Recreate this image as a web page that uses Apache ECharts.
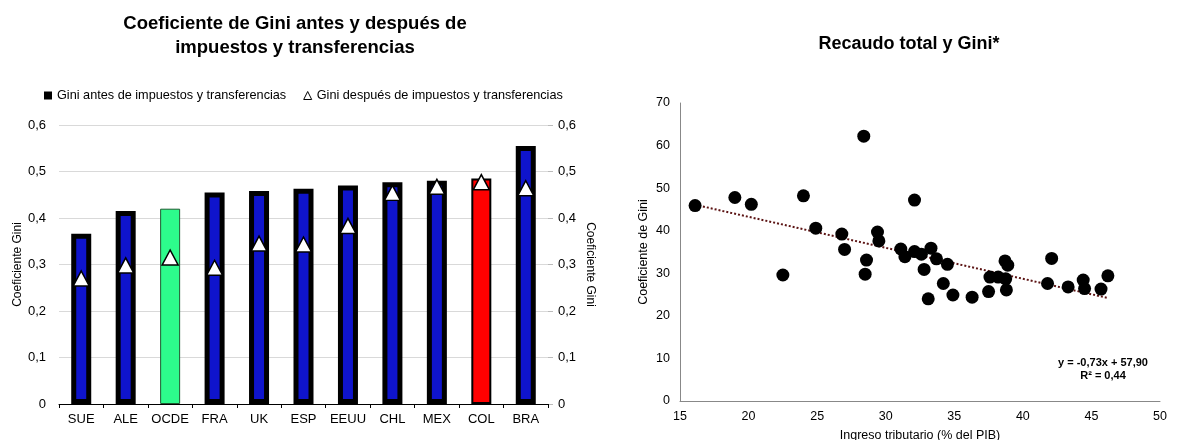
<!DOCTYPE html>
<html>
<head>
<meta charset="utf-8">
<script src="https://cdn.jsdelivr.net/npm/echarts@6/dist/echarts.min.js"></script>
<style>
  html, body { margin: 0; padding: 0; background: #fff; }
  #chart { width: 1178px; height: 440px; }
</style>
</head>
<body>
<div id="chart"></div>
<script>
// left chart: Gini before / after taxes and transfers
const countries = ['SUE', 'ALE', 'OCDE', 'FRA', 'UK', 'ESP', 'EEUU', 'CHL', 'MEX', 'COL', 'BRA'];
const giniAntes = [0.366, 0.415, 0.42, 0.455, 0.458, 0.463, 0.47, 0.477, 0.48, 0.485, 0.555];
const giniDespues = [0.27, 0.298, 0.315, 0.293, 0.345, 0.343, 0.383, 0.454, 0.467, 0.477, 0.464];
const giniTicks = ['0', '0,1', '0,2', '0,3', '0,4', '0,5', '0,6'];

// right chart: tax revenue vs Gini
const recaudo = [16.1, 19.0, 20.2, 22.5, 24.0, 24.9, 26.8, 27.0, 28.4, 28.5, 28.6, 29.4, 29.5,
  31.1, 31.4, 32.1, 32.1, 32.6, 32.8, 33.1, 33.3, 33.7, 34.2, 34.5, 34.9, 36.3, 37.5, 37.6,
  38.2, 38.7, 38.75, 38.8, 38.9, 41.8, 42.1, 43.3, 44.4, 44.5, 45.7, 46.2];
const gini = [45.9, 47.8, 46.2, 29.6, 48.2, 40.6, 39.2, 35.6, 62.2, 29.8, 33.1, 39.7, 37.6,
  35.7, 33.9, 47.2, 35.1, 34.5, 30.9, 24.0, 35.9, 33.4, 27.6, 32.1, 24.9, 24.4, 25.7, 29.1,
  29.1, 32.9, 28.7, 26.1, 31.9, 27.6, 33.5, 26.8, 28.4, 26.4, 26.3, 29.4];
const trendX = [16.1, 46.2];
const trendY = [46.1, 24.2];

const FONT = '"Liberation Sans", Arial, sans-serif';

const barData = giniAntes.map((v, i) => {
  const c = countries[i];
  if (c === 'OCDE') {
    return { value: v, itemStyle: { color: '#2dfc8c', borderColor: '#1f5a30', borderWidth: 1 } };
  }
  if (c === 'COL') {
    return { value: v, itemStyle: { color: '#ff0000', borderColor: '#000', borderWidth: 2 } };
  }
  return { value: v, itemStyle: { color: '#0f14cc', borderColor: '#000', borderWidth: 5 } };
});

const chart = echarts.init(document.getElementById('chart'));

const option = {
  backgroundColor: '#fff',
  textStyle: { fontFamily: FONT },
  animation: false,
  title: [
    {
      text: 'Coeficiente de Gini antes y después de\nimpuestos y transferencias',
      left: 290, top: 7, textAlign: 'center',
      textStyle: { fontSize: 18.5, fontWeight: 'bold', color: '#000', lineHeight: 24, fontFamily: FONT }
    },
    {
      text: 'Recaudo total y Gini*',
      left: 904, top: 30, textAlign: 'center',
      textStyle: { fontSize: 18, fontWeight: 'bold', color: '#000', fontFamily: FONT }
    },
    {
      text: 'y = -0,73x + 57,90\nR² = 0,44',
      left: 1098, top: 351, textAlign: 'center',
      textStyle: { fontSize: 11, fontWeight: 'bold', color: '#000', lineHeight: 13, fontFamily: FONT }
    }
  ],
  legend: {
    left: 39, top: 84,
    itemWidth: 8, itemHeight: 8, itemGap: 17,
    textStyle: { fontSize: 12.7, color: '#000', fontFamily: FONT },
    data: [
      { name: 'Gini antes de impuestos y transferencias', icon: 'rect', itemStyle: { color: '#000', borderWidth: 0 } },
      { name: 'Gini después de impuestos y transferencias', icon: 'triangle', itemStyle: { color: '#fff', borderColor: '#000', borderWidth: 1 } }
    ]
  },
  grid: [
    { left: 59, right: 630, top: 125, bottom: 36, outerBoundsMode: 'none' },
    { left: 680, right: 18, top: 103, bottom: 39, outerBoundsMode: 'none' }
  ],
  xAxis: [
    {
      type: 'category', gridIndex: 0, data: countries,
      axisLine: { lineStyle: { color: '#000', width: 1 } },
      axisTick: { show: true, length: 4, lineStyle: { color: '#000' } },
      axisLabel: { fontSize: 13, color: '#000', margin: 9, interval: 0 }
    },
    {
      type: 'value', gridIndex: 1, min: 15, max: 50, interval: 5,
      name: 'Ingreso tributario (% del PIB)', nameLocation: 'middle', nameGap: 28,
      nameTextStyle: { fontSize: 12.5, color: '#000' },
      axisLine: { show: true, lineStyle: { color: '#888' } },
      axisTick: { show: false },
      splitLine: { show: false },
      axisLabel: { fontSize: 12.5, color: '#000', margin: 9 }
    }
  ],
  yAxis: [
    {
      type: 'value', gridIndex: 0, position: 'left', min: 0, max: 0.6, interval: 0.1,
      name: 'Coeficiente Gini', nameLocation: 'middle', nameGap: 35, nameRotate: 90,
      nameTextStyle: { fontSize: 12, color: '#000' },
      axisLine: { show: false }, axisTick: { show: false },
      axisLabel: { fontSize: 13, color: '#000', margin: 13, formatter: (v) => giniTicks[Math.round(v * 10)] },
      splitLine: { show: true, lineStyle: { color: '#d9d9d9', width: 1 } }
    },
    {
      type: 'value', gridIndex: 0, position: 'right', min: 0, max: 0.6, interval: 0.1,
      name: 'Coeficiente Gini', nameLocation: 'middle', nameGap: 36, nameRotate: -90,
      nameTextStyle: { fontSize: 12, color: '#000' },
      axisLine: { show: false },
      axisTick: { show: true, length: 5, lineStyle: { color: '#bbb' } },
      axisLabel: { fontSize: 13, color: '#000', margin: 10, formatter: (v) => giniTicks[Math.round(v * 10)] },
      splitLine: { show: false }
    },
    {
      type: 'value', gridIndex: 1, min: 0, max: 70, interval: 10,
      name: 'Coeficiente de Gini', nameLocation: 'middle', nameGap: 30,
      nameTextStyle: { fontSize: 12.5, color: '#000' },
      axisLine: { show: true, lineStyle: { color: '#888' } },
      axisTick: { show: false },
      splitLine: { show: false },
      axisLabel: { fontSize: 12.5, color: '#000', margin: 10 }
    }
  ],
  series: [
    {
      name: 'Gini antes de impuestos y transferencias',
      type: 'bar', xAxisIndex: 0, yAxisIndex: 0,
      barWidth: 20,
      itemStyle: { color: '#000' },
      data: barData
    },
    {
      name: 'Gini después de impuestos y transferencias',
      type: 'scatter', xAxisIndex: 0, yAxisIndex: 0,
      symbol: 'triangle', symbolSize: [16, 15],
      itemStyle: { color: '#fff', borderColor: '#000', borderWidth: 1.5, opacity: 1 },
      data: giniDespues,
      z: 5
    },
    {
      name: 'Recaudo y Gini',
      type: 'scatter', xAxisIndex: 1, yAxisIndex: 2,
      symbolSize: 13,
      itemStyle: { color: '#000', opacity: 1 },
      data: recaudo.map((x, i) => [x, gini[i]]),
      z: 4
    },
    {
      name: 'Tendencia',
      type: 'line', xAxisIndex: 1, yAxisIndex: 2,
      showSymbol: false, symbol: 'none',
      lineStyle: { color: '#5c1414', width: 2, type: [2, 2] },
      data: trendX.map((x, i) => [x, trendY[i]]),
      z: 3
    }
  ]
};

chart.setOption(option);
window.addEventListener('resize', () => chart.resize());
</script>
</body>
</html>
